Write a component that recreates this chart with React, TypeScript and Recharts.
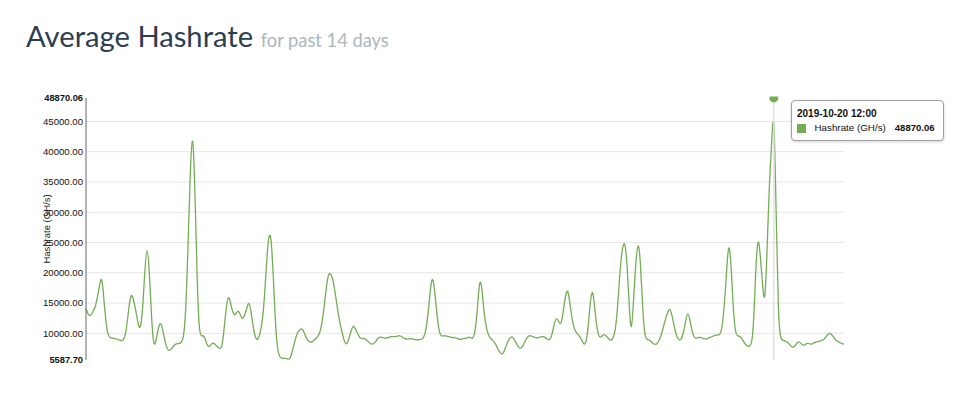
import React from 'react';
import { LineChart, Line, XAxis, YAxis, Tooltip, CartesianGrid, Label } from 'recharts';

const TITLE = 'Average Hashrate';
const SUBTITLE = 'for past 14 days';
const SERIES_NAME = 'Hashrate (GH/s)';
const START_UTC = Date.UTC(2019, 9, 7, 20, 0);
const STEP_MS = 3600 * 1000;

// hourly average hashrate, GH/s
const HASHRATE = [
  14100, 13000, 12800, 13600, 14100, 15800, 18000, 19800, 15200, 11000,
  9400, 9200, 9200, 9100, 9000, 8800, 8800, 9000, 11000, 14500,
  16800, 15600, 13800, 11500, 10400, 13500, 20500, 25200, 20500, 12000,
  7500, 8800, 11000, 12000, 10500, 8400, 7300, 7100, 7500, 8100,
  8300, 8300, 8400, 9000, 12500, 23000, 36000, 44500, 36500, 20000,
  10000, 9500, 9700, 8700, 7600, 8000, 8500, 8200, 7800, 7500,
  7400, 10500, 14500, 16500, 14800, 13200, 12900, 13900, 13300, 12200,
  12800, 14000, 15500, 13500, 10700, 9000, 8900, 10000, 12000, 16500,
  23000, 27000, 25500, 17500, 9500, 6500, 5900, 5800, 5900, 5800,
  5587.7, 6700, 8300, 9700, 10400, 10800, 10600, 9500, 8800, 8500,
  8600, 8900, 9300, 9700, 11000, 13500, 17000, 19800, 20000, 19200,
  17000, 14500, 12000, 10500, 8800, 8000, 8800, 10200, 11400, 10800,
  10000, 9200, 9100, 9200, 8900, 8500, 8200, 8200, 8600, 9200,
  9400, 9300, 9200, 9200, 9400, 9500, 9400, 9500, 9600, 9600,
  9300, 9100, 9000, 9100, 9100, 9000, 8900, 8900, 9000, 9100,
  10000, 12500, 16500, 19800, 17500, 13500, 10200, 9500, 9600, 9600,
  9500, 9350, 9300, 9300, 9200, 9000, 9000, 9200, 9100, 9400,
  9300, 9000, 10200, 14000, 19500, 17500, 13000, 10800, 9500, 9100,
  8700, 8300, 7400, 6800, 6400, 7200, 8300, 9100, 9500, 9200,
  8500, 7800, 7400, 7800, 8700, 9300, 9700, 9500, 9400, 9200,
  9300, 9400, 9500, 9300, 9000, 8800, 9800, 11700, 12700, 11800,
  11300, 13800, 16500, 17500, 14500, 11800, 10500, 10000, 9600, 9000,
  8100, 8300, 11000, 16000, 17500, 13500, 10200, 9200, 9500, 9900,
  9500, 9100, 8700, 9200, 10500, 14500, 20500, 24000, 25500, 22500,
  15000, 9000, 15500, 22000, 25500, 22500, 14000, 9300, 8900, 9000,
  8500, 8200, 8100, 8600, 9400, 10800, 12200, 13400, 14300, 13000,
  11000, 9500, 8900, 8800, 10000, 12000, 13800, 12000, 10000, 9200,
  9200, 9350, 9300, 9100, 9000, 9200, 9350, 9500, 9700, 9700,
  9700, 10500, 14000, 19500, 25500, 22500, 14000, 10000, 9500, 9600,
  9000, 8400, 7900, 7800, 8000, 10500, 21000, 26500, 23000, 18000,
  14000, 23500, 35000, 41000, 48870.06, 30000, 12000, 9000, 8800, 8700,
  8600, 8100, 7700, 7700, 8300, 8700, 8300, 7900, 8200, 8400,
  8200, 8200, 8500, 8600, 8650, 8800, 8900, 9400, 10000, 10000,
  9600, 9000, 8700, 8500, 8350, 8200,
];

const Y_MIN = 5587.7;
const Y_MAX = 48870.06;
const Y_TICKS = [Y_MIN, 10000, 15000, 20000, 25000, 30000, 35000, 40000, 45000, Y_MAX];
const GRID_VALUES = [10000, 15000, 20000, 25000, 30000, 35000, 40000, 45000];
const ACTIVE_INDEX = 304;

const LINE_COLOR = '#74ad55';
const AXIS_FONT = '"Liberation Sans", Arial, Helvetica, sans-serif';

const pad = (n: number) => String(n).padStart(2, '0');
const TIME_LABELS = HASHRATE.map((_, i) => {
  const d = new Date(START_UTC + i * STEP_MS);
  return `${d.getUTCFullYear()}-${pad(d.getUTCMonth() + 1)}-${pad(d.getUTCDate())} ${pad(d.getUTCHours())}:${pad(d.getUTCMinutes())}`;
});

const data = HASHRATE.map((v, i) => ({ time: TIME_LABELS[i], hashrate: v }));

const YTick = (props: any) => {
  const { x, y, payload } = props;
  const v = payload.value as number;
  const edge = v === Y_MIN || v === Y_MAX;
  return (
    <text
      x={x}
      y={y}
      dy={3.4}
      textAnchor="end"
      fontFamily={AXIS_FONT}
      fontSize={edge ? 9.3 : 9.6}
      fontWeight={edge ? 700 : 400}
      fill="#111"
    >
      {v.toFixed(2)}
    </text>
  );
};

const ActiveDot = (props: any) => {
  const { cx, cy } = props;
  if (cx == null || cy == null) return null;
  const r = 4.5;
  const h = 1.5;
  const w = Math.sqrt(r * r - h * h);
  return (
    <path
      d={`M${cx - w},${cy - h} A${r},${r} 0 1 0 ${cx + w},${cy - h} Z`}
      fill={LINE_COLOR}
    />
  );
};

const TooltipBox = (props: any) => {
  const { active, payload, label } = props;
  if (!active || !payload || !payload.length) return null;
  const value = payload[0].value as number;
  return (
    <div
      style={{
        boxSizing: 'border-box',
        width: 153,
        height: 41,
        background: '#fff',
        border: '1px solid #a0a0a0',
        borderRadius: 4,
        boxShadow: '0 1px 3px rgba(0,0,0,0.18)',
        padding: '6px 6px 0 5px',
        fontFamily: AXIS_FONT,
        color: '#111',
      }}
    >
      <div style={{ fontWeight: 700, fontSize: 10, lineHeight: '14px', whiteSpace: 'nowrap' }}>{label}</div>
      <div style={{ display: 'flex', alignItems: 'center', fontSize: 9.8, lineHeight: '14px', whiteSpace: 'nowrap' }}>
        <span style={{ display: 'inline-block', width: 8.5, height: 9, background: LINE_COLOR, marginRight: 9 }} />
        <span>{SERIES_NAME}</span>
        <span style={{ fontWeight: 700, marginLeft: 9, fontSize: 9.5 }}>{value.toFixed(2)}</span>
      </div>
    </div>
  );
};

export default function App() {
  return (
    <div style={{ position: 'absolute', left: 0, top: 0, width: 962, height: 407, background: '#fff' }}>
      <div
        style={{
          position: 'absolute',
          left: 26,
          top: 21,
          fontFamily: 'Lato, "Open Sans", sans-serif',
          lineHeight: '30px',
          whiteSpace: 'nowrap',
        }}
      >
        <span style={{ fontSize: 29.2, color: '#2c3e50' }}>{TITLE} </span>
        <span style={{ fontSize: 18.3, color: '#aeb6bd' }}>{SUBTITLE}</span>
      </div>
      <div style={{ position: 'absolute', left: 0, top: 0 }}>
        <LineChart
          width={962}
          height={407}
          data={data}
          margin={{ top: 98, right: 118, bottom: 47, left: 0 }}
        >
          <CartesianGrid vertical={false} horizontalValues={GRID_VALUES} stroke="#e6e6e6" />
          <XAxis dataKey="time" hide />
          <YAxis
            width={86}
            type="number"
            domain={[Y_MIN, Y_MAX]}
            ticks={Y_TICKS}
            interval={0}
            tick={YTick}
            tickLine={false}
            tickSize={0}
            tickMargin={3}
            axisLine={{ stroke: '#666' }}
          >
            <Label
              value={SERIES_NAME}
              angle={-90}
              position="insideLeft"
              offset={47}
              style={{ textAnchor: 'middle', fontSize: 9.5, fill: '#222', fontFamily: AXIS_FONT }}
            />
          </YAxis>
          <Line
            type="basis"
            dataKey="hashrate"
            name={SERIES_NAME}
            stroke={LINE_COLOR}
            strokeWidth={1.3}
            dot={false}
            activeDot={ActiveDot}
            isAnimationActive={false}
          />
          <Tooltip
            defaultIndex={ACTIVE_INDEX}
            active
            position={{ x: 791, y: 100 }}
            cursor={{ stroke: '#e2e2e2', strokeWidth: 1.5 }}
            content={<TooltipBox />}
            isAnimationActive={false}
          />
        </LineChart>
      </div>
    </div>
  );
}
